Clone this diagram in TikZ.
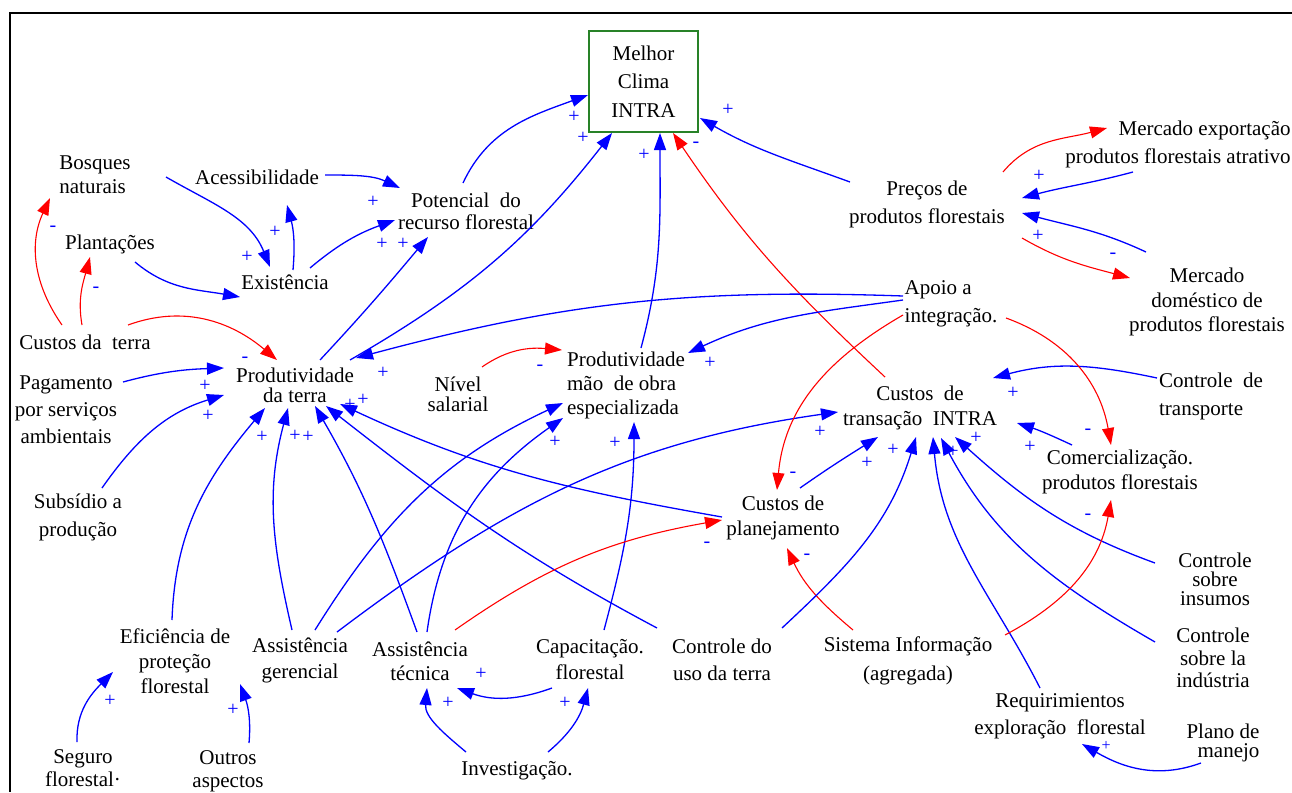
\documentclass[tikz,border=0pt]{standalone}
\usepackage{fontspec}
\setmainfont{Liberation Serif}
\usetikzlibrary{arrows.meta}
\definecolor{cblue}{RGB}{0,0,255}
\definecolor{cred}{RGB}{255,0,0}
\definecolor{cgreen}{RGB}{40,130,40}
\begin{document}
\begin{tikzpicture}[x=1pt,y=1pt,
  txt/.style={align=center, font=\fontsize{21}{25}\selectfont, inner sep=1pt},
  lsp/.style={font=\fontsize{21}{#1}\selectfont},
  plusarr/.style={draw=cblue, line width=1.3pt, -{Triangle[length=17pt,width=12pt]}},
  minusarr/.style={draw=cred, line width=1.1pt, -{Triangle[length=17pt,width=12pt]}},
  lab/.style={text=cblue, font=\fontsize{20}{20}\selectfont, inner sep=0pt}]
\useasboundingbox (0,0) rectangle (1292,-792);
\draw[line width=2.5pt] (1292,-13) -- (10,-13) -- (10,-792);

% nodes
\node[txt, draw=cgreen, line width=1.3pt, minimum width=109pt, minimum height=101pt, lsp=28.5] (mc) at (643.5,-81.5) {Melhor\\Clima\\INTRA};
\node[txt, align=left, lsp=24] (bos) at (95,-175) {Bosques\\naturais};
\node[txt] (acc) at (257,-177) {Acessibilidade};
\node[txt, lsp=22] (pot) at (466,-211) {Potencial\ \ do\\recurso florestal};
\node[txt] (pla) at (110,-244) {Plantações};
\node[txt] (exi) at (285,-282) {Existência};
\node[txt] (cdt) at (85,-342) {Custos da\ \ terra};
\node[txt, lsp=27] (pag) at (66,-410) {Pagamento\\por serviços\\ambientais};
\node[txt, lsp=20] (pdt) at (295,-385) {Produtividade\\da terra};
\node[txt, lsp=20] (niv) at (458,-394) {Nível\\salarial};
\node[txt, align=left, lsp=24] (pmo) at (626,-385) {Produtividade\\mão\ \ de obra\\especializada};
\node[txt, align=left, lsp=28] (apo) at (951,-304) {Apoio a\\integração.};
\node[txt, lsp=28] (pre) at (927,-204) {Preços de\\produtos florestais};
\node[txt, align=right, lsp=28] (mex) at (1178,-144) {Mercado exportação\\produtos florestais atrativo};
\node[txt, lsp=24.5] (mdo) at (1207,-302) {Mercado\\doméstico de\\produtos florestais};
\node[txt] (ctr) at (920,-408) {Custos\ \ de\\transação\ \ INTRA};
\node[txt, align=left, lsp=28] (ctp) at (1211,-396) {Controle\ \ de\\transporte};
\node[txt] (com) at (1120,-472) {Comercialização.\\produtos florestais};
\node[txt] (cpl) at (783,-518) {Custos de\\planejamento};
\node[txt, lsp=28] (sub) at (78,-517) {Subsídio a\\produção};
\node[txt] (efi) at (175,-661) {Eficiência de\\proteção\\florestal};
\node[txt, lsp=26] (asg) at (300,-660) {Assistência\\gerencial};
\node[txt, lsp=24] (ast) at (420,-661) {Assistência\\técnica};
\node[txt, lsp=26] (cap) at (590,-660) {Capacitação.\\florestal};
\node[txt, lsp=27] (cut) at (722,-660) {Controle do\\uso da terra};
\node[txt, lsp=29] (sis) at (908,-661) {Sistema Informação\\(agregada)};
\node[txt, lsp=19] (cin) at (1215,-579) {Controle\\sobre\\insumos};
\node[txt, lsp=22.5] (cind) at (1213,-658) {Controle\\sobre la\\indústria};
\node[txt, lsp=27] (req) at (1060,-716) {Requirimientos\\exploração\ \ florestal};
\node[txt, align=right, lsp=19] (plm) at (1223,-743) {Plano de\\manejo};
\node[txt] (inv) at (517,-771) {Investigação.};
\node[txt, lsp=23] (seg) at (83,-768) {Seguro\\florestal·};
\node[txt, lsp=23] (oth) at (228,-771) {Outros\\aspectos};

% connectors
\draw[plusarr] ([shift={(-3,28)}]pot.center) to[out=65,in=200] ([shift={(-55.5,-13.5)}]mc.center);
\draw[plusarr] ([shift={(55,25)}]pdt.center) to[out=30,in=232] ([shift={(-31.5,-51.5)}]mc.center);
\draw[plusarr] ([shift={(15,37)}]pmo.center) to[out=75,in=270] ([shift={(16.5,-51.5)}]mc.center);
\draw[minusarr] ([shift={(-35,31)}]ctr.center) to[out=137,in=304] ([shift={(29.5,-51.5)}]mc.center);
\draw[plusarr] ([shift={(-77,22)}]pre.center) to[out=160,in=330] ([shift={(56.5,-36.5)}]mc.center);
\draw[minusarr] ([shift={(76,32)}]pre.center) to[out=50,in=195] ([shift={(-71,16)}]mex.center);
\draw[plusarr] ([shift={(-45,-28)}]mex.center) to[out=195,in=15] ([shift={(95,6)}]pre.center);
\draw[plusarr] ([shift={(-61,50)}]mdo.center) to[out=155,in=345] ([shift={(95,-9)}]pre.center);
\draw[minusarr] ([shift={(95,-34)}]pre.center) to[out=-30,in=165] ([shift={(-77,24)}]mdo.center);
\draw[plusarr] ([shift={(71,-2)}]bos.center) to[out=-30,in=112] ([shift={(-15,15)}]exi.center);
\draw[plusarr] ([shift={(8,12)}]exi.center) to[out=85,in=285] ([shift={(30,-28)}]acc.center);
\draw[plusarr] ([shift={(68,2)}]acc.center) to[out=0,in=155] ([shift={(-66,23)}]pot.center);
\draw[plusarr] ([shift={(25,14)}]exi.center) to[out=40,in=200] ([shift={(-71,-9)}]pot.center);
\draw[plusarr] ([shift={(25,25)}]pdt.center) to[out=47,in=230] ([shift={(-38,-26)}]pot.center);
\draw[minusarr] ([shift={(-23,17)}]cdt.center) to[out=125,in=245] ([shift={(-45,-23)}]bos.center);
\draw[minusarr] ([shift={(-3,17)}]cdt.center) to[out=100,in=255] ([shift={(-20,-13)}]pla.center);
\draw[minusarr] ([shift={(43,17)}]cdt.center) to[out=20,in=140] ([shift={(-18,25)}]pdt.center);
\draw[plusarr] ([shift={(25,-18)}]pla.center) to[out=-40,in=170] ([shift={(-45,-15)}]exi.center);
\draw[plusarr] ([shift={(57,28)}]pag.center) to[out=15,in=182] ([shift={(-71,17)}]pdt.center);
\draw[plusarr] ([shift={(24,29)}]sub.center) to[out=55,in=197] ([shift={(-71,-10)}]pdt.center);
\draw[plusarr] ([shift={(-3,41)}]efi.center) to[out=88,in=230] ([shift={(-30,-23)}]pdt.center);
\draw[plusarr] ([shift={(-8,30)}]asg.center) to[out=103,in=255] ([shift={(-7,-23)}]pdt.center);
\draw[plusarr] ([shift={(-3,29)}]ast.center) to[out=110,in=300] ([shift={(20,-21)}]pdt.center);
\draw[plusarr] ([shift={(-65,32)}]cut.center) to[out=152,in=322] ([shift={(31,-21)}]pdt.center);
\draw[plusarr] ([shift={(-61,1)}]cpl.center) to[out=170,in=335] ([shift={(45,-19)}]pdt.center);
\draw[plusarr] ([shift={(-48,8)}]apo.center) to[out=178,in=15] ([shift={(61,27)}]pdt.center);
\draw[minusarr] ([shift={(24,27)}]niv.center) to[out=35,in=175] ([shift={(-64,35)}]pmo.center);
\draw[plusarr] ([shift={(-48,4)}]apo.center) to[out=188,in=25] ([shift={(62,32)}]pmo.center);
\draw[plusarr] ([shift={(15,30)}]asg.center) to[out=58,in=205] ([shift={(-63,-18)}]pmo.center);
\draw[plusarr] ([shift={(7,29)}]ast.center) to[out=82,in=215] ([shift={(-63,-33)}]pmo.center);
\draw[plusarr] ([shift={(14,30)}]cap.center) to[out=75,in=270] ([shift={(8,-37)}]pmo.center);
\draw[plusarr] ([shift={(37,28)}]asg.center) to[out=37,in=188] ([shift={(-82,-4)}]ctr.center);
\draw[minusarr] ([shift={(35,31)}]ast.center) to[out=35,in=190] ([shift={(-61,-2)}]cpl.center);
\draw[plusarr] ([shift={(-38,-28)}]cap.center) to[out=200,in=340] ([shift={(37,-27)}]ast.center);
\draw[plusarr] ([shift={(-51,19)}]inv.center) to[out=140,in=265] ([shift={(7,-27)}]ast.center);
\draw[plusarr] ([shift={(31,19)}]inv.center) to[out=40,in=255] ([shift={(-2,-28)}]cap.center);
\draw[plusarr] ([shift={(-6,26)}]seg.center) to[out=92,in=225] ([shift={(-62,-11)}]efi.center);
\draw[plusarr] ([shift={(21,28)}]oth.center) to[out=85,in=290] ([shift={(65,-23)}]efi.center);
\draw[minusarr] ([shift={(-55,31)}]sis.center) to[out=140,in=295] ([shift={(4,-30)}]cpl.center);
\draw[plusarr] ([shift={(60,32)}]cut.center) to[out=43,in=253] ([shift={(-4,-29)}]ctr.center);
\draw[plusarr] ([shift={(17,30)}]cpl.center) to[out=35,in=212] ([shift={(-42,-29)}]ctr.center);
\draw[plusarr] ([shift={(-20,28)}]req.center) to[out=117,in=275] ([shift={(13,-29)}]ctr.center);
\draw[plusarr] ([shift={(-58,16)}]cind.center) to[out=150,in=298] ([shift={(21,-30)}]ctr.center);
\draw[plusarr] ([shift={(-60,16)}]cin.center) to[out=160,in=318] ([shift={(35,-29)}]ctr.center);
\draw[plusarr] ([shift={(-54,18)}]ctp.center) to[out=168,in=15] ([shift={(73,30)}]ctr.center);
\draw[plusarr] ([shift={(-48,27)}]com.center) to[out=155,in=342] ([shift={(97,-15)}]ctr.center);
\draw[minusarr] ([shift={(55,-14)}]apo.center) to[out=-20,in=100] ([shift={(-9,27)}]com.center);
\draw[minusarr] ([shift={(-48,-11)}]apo.center) to[out=210,in=85] ([shift={(-6,28)}]cpl.center);
\draw[minusarr] ([shift={(97,26)}]sis.center) to[out=28,in=260] ([shift={(-9,-28)}]com.center);
\draw[plusarr] ([shift={(-22,-20)}]plm.center) to[out=200,in=330] ([shift={(22,-28)}]req.center);

% polarity labels
\node[lab] (l1) at (574,-117) {+};
\node[lab] (l2) at (583,-138) {+};
\node[lab] (l3) at (644,-155) {+};
\node[lab] (l4) at (696,-145) {-};
\node[lab] (l5) at (728,-110) {+};
\node[lab] (l6) at (1039,-176) {+};
\node[lab] (l7) at (1038,-236) {+};
\node[lab] (l8) at (1113,-256) {-};
\node[lab] (l9) at (247,-257) {+};
\node[lab] (l10) at (275,-232) {+};
\node[lab] (l11) at (373,-202) {+};
\node[lab] (l12) at (382,-244) {+};
\node[lab] (l13) at (403,-244) {+};
\node[lab] (l14) at (53,-229) {-};
\node[lab] (l15) at (96,-290) {-};
\node[lab] (l16) at (245,-360) {-};
\node[lab] (l17) at (205,-386) {+};
\node[lab] (l18) at (208,-416) {+};
\node[lab] (l19) at (262,-437) {+};
\node[lab] (l20) at (295,-436) {+};
\node[lab] (l21) at (308,-437) {+};
\node[lab] (l22) at (350,-405) {+};
\node[lab] (l23) at (363,-400) {+};
\node[lab] (l24) at (383,-373) {+};
\node[lab] (l25) at (540,-368) {-};
\node[lab] (l26) at (710,-363) {+};
\node[lab] (l27) at (555,-442) {+};
\node[lab] (l28) at (615,-443) {+};
\node[lab] (l29) at (820,-432) {+};
\node[lab] (l30) at (867,-463) {+};
\node[lab] (l31) at (893,-450) {+};
\node[lab] (l32) at (953,-452) {+};
\node[lab] (l33) at (976,-438) {+};
\node[lab] (l34) at (1013,-393) {+};
\node[lab] (l35) at (1030,-447) {+};
\node[lab] (l36) at (1088,-432) {-};
\node[lab] (l37) at (793,-475) {-};
\node[lab] (l38) at (1088,-517) {-};
\node[lab] (l39) at (707,-545) {-};
\node[lab] (l40) at (807,-557) {-};
\node[lab] (l41) at (481,-674) {+};
\node[lab] (l42) at (448,-703) {+};
\node[lab] (l43) at (565,-703) {+};
\node[lab] (l44) at (110,-701) {+};
\node[lab] (l45) at (233,-710) {+};
\node[lab, font=\fontsize{16}{16}\selectfont] (l46) at (1106,-746) {+};
\end{tikzpicture}
\end{document}
